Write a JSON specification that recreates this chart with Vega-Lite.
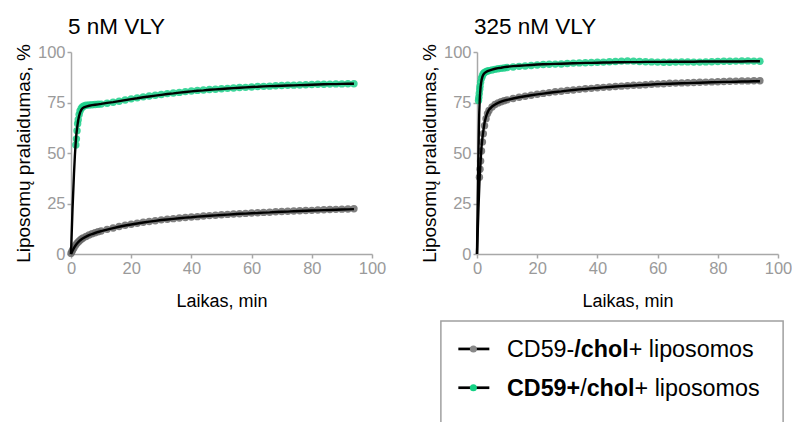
{
"$schema":"https://vega.github.io/schema/vega-lite/v6.json",
"background":"white",
"padding":{"left":14,"top":16,"right":0,"bottom":0},
"config":{"font":"Liberation Sans","view":{"stroke":null},
"axis":{"grid":false,"domainColor":"#a8a8a8","domainWidth":1.5,"tickColor":"#a8a8a8","tickWidth":1.5,"tickSize":4,"labelColor":"#9a9a9a","labelFontSize":16.5,"labelPadding":2,"labelFlush":false,"titleColor":"#000000","titleFontWeight":"normal","titleFont":"Liberation Sans","labelFont":"Liberation Sans"},
"title":{"anchor":"start","fontSize":22.5,"fontWeight":"normal","color":"#000000","frame":"group","dx":-3,"offset":5,"font":"Liberation Sans"}},
"spacing":34,
"datasets":{
"vly5":[
{"group":"CD59+/chol+","t":0,"obs":null,"fit":0},{"group":"CD59+/chol+","t":0.5,"obs":null,"fit":22},{"group":"CD59+/chol+","t":1,"obs":null,"fit":40},{"group":"CD59+/chol+","t":1.3,"obs":null,"fit":49},
{"group":"CD59+/chol+","t":1.6,"obs":54,"fit":56},{"group":"CD59+/chol+","t":1.8,"obs":57,"fit":59.5},{"group":"CD59+/chol+","t":2,"obs":61,"fit":62},{"group":"CD59+/chol+","t":2.2,"obs":64.5,"fit":64.3},{"group":"CD59+/chol+","t":2.4,"obs":66.5,"fit":66.2},{"group":"CD59+/chol+","t":2.7,"obs":69,"fit":68.4},{"group":"CD59+/chol+","t":3,"obs":70.8,"fit":70},{"group":"CD59+/chol+","t":3.4,"obs":72,"fit":71.3},{"group":"CD59+/chol+","t":3.8,"obs":72.8,"fit":72.1},{"group":"CD59+/chol+","t":4.3,"obs":73.3,"fit":72.6},{"group":"CD59+/chol+","t":5,"obs":73.6,"fit":73},{"group":"CD59+/chol+","t":6,"obs":73.8,"fit":73.4},{"group":"CD59+/chol+","t":7,"obs":73.9,"fit":73.7},{"group":"CD59+/chol+","t":8,"obs":74,"fit":73.9},{"group":"CD59+/chol+","t":9,"obs":74.1,"fit":74.1},{"group":"CD59+/chol+","t":10,"obs":74.2,"fit":74.3},{"group":"CD59+/chol+","t":12,"obs":74.6,"fit":74.8},{"group":"CD59+/chol+","t":14,"obs":75.1,"fit":75.2},{"group":"CD59+/chol+","t":16,"obs":75.6,"fit":75.7},{"group":"CD59+/chol+","t":18,"obs":76.2,"fit":76.2},{"group":"CD59+/chol+","t":20,"obs":76.8,"fit":76.7},{"group":"CD59+/chol+","t":22,"obs":77.3,"fit":77.1},{"group":"CD59+/chol+","t":24,"obs":77.8,"fit":77.6},{"group":"CD59+/chol+","t":26,"obs":78.2,"fit":78},{"group":"CD59+/chol+","t":28,"obs":78.6,"fit":78.4},{"group":"CD59+/chol+","t":30,"obs":79,"fit":78.8},{"group":"CD59+/chol+","t":32,"obs":79.4,"fit":79.2},{"group":"CD59+/chol+","t":34,"obs":79.7,"fit":79.5},{"group":"CD59+/chol+","t":36,"obs":80,"fit":79.9},{"group":"CD59+/chol+","t":38,"obs":80.4,"fit":80.2},{"group":"CD59+/chol+","t":40,"obs":80.7,"fit":80.5},{"group":"CD59+/chol+","t":42,"obs":81,"fit":80.8},{"group":"CD59+/chol+","t":44,"obs":81.2,"fit":81},{"group":"CD59+/chol+","t":46,"obs":81.4,"fit":81.3},{"group":"CD59+/chol+","t":48,"obs":81.6,"fit":81.5},{"group":"CD59+/chol+","t":50,"obs":81.8,"fit":81.7},{"group":"CD59+/chol+","t":52,"obs":82,"fit":81.9},{"group":"CD59+/chol+","t":54,"obs":82.2,"fit":82.1},{"group":"CD59+/chol+","t":56,"obs":82.4,"fit":82.3},{"group":"CD59+/chol+","t":58,"obs":82.5,"fit":82.5},{"group":"CD59+/chol+","t":60,"obs":82.7,"fit":82.7},{"group":"CD59+/chol+","t":62,"obs":82.9,"fit":82.8},{"group":"CD59+/chol+","t":64,"obs":83,"fit":83},{"group":"CD59+/chol+","t":66,"obs":83.1,"fit":83.1},{"group":"CD59+/chol+","t":68,"obs":83.3,"fit":83.2},{"group":"CD59+/chol+","t":70,"obs":83.4,"fit":83.3},{"group":"CD59+/chol+","t":72,"obs":83.5,"fit":83.4},{"group":"CD59+/chol+","t":74,"obs":83.6,"fit":83.5},{"group":"CD59+/chol+","t":76,"obs":83.7,"fit":83.6},{"group":"CD59+/chol+","t":78,"obs":83.8,"fit":83.7},{"group":"CD59+/chol+","t":80,"obs":83.9,"fit":83.8},{"group":"CD59+/chol+","t":82,"obs":84,"fit":83.9},{"group":"CD59+/chol+","t":84,"obs":84,"fit":84},{"group":"CD59+/chol+","t":86,"obs":84.1,"fit":84.1},{"group":"CD59+/chol+","t":88,"obs":84.2,"fit":84.1},{"group":"CD59+/chol+","t":90,"obs":84.2,"fit":84.2},{"group":"CD59+/chol+","t":92,"obs":84.3,"fit":84.3},{"group":"CD59+/chol+","t":94,"obs":84.3,"fit":84.3},
{"group":"CD59-/chol+","t":0,"obs":0.3,"fit":0},{"group":"CD59-/chol+","t":0.3,"obs":1.2,"fit":1},{"group":"CD59-/chol+","t":0.6,"obs":2.1,"fit":1.9},{"group":"CD59-/chol+","t":1,"obs":3.1,"fit":3},{"group":"CD59-/chol+","t":1.5,"obs":4.3,"fit":4.2},{"group":"CD59-/chol+","t":2,"obs":5.3,"fit":5.2},{"group":"CD59-/chol+","t":2.5,"obs":6.1,"fit":6},{"group":"CD59-/chol+","t":3,"obs":6.8,"fit":6.7},{"group":"CD59-/chol+","t":3.5,"obs":7.4,"fit":7.3},{"group":"CD59-/chol+","t":4,"obs":7.9,"fit":7.8},{"group":"CD59-/chol+","t":5,"obs":8.7,"fit":8.6},{"group":"CD59-/chol+","t":6,"obs":9.4,"fit":9.3},{"group":"CD59-/chol+","t":7,"obs":10,"fit":9.9},{"group":"CD59-/chol+","t":8,"obs":10.5,"fit":10.4},{"group":"CD59-/chol+","t":9,"obs":11,"fit":10.9},{"group":"CD59-/chol+","t":10,"obs":11.4,"fit":11.3},{"group":"CD59-/chol+","t":12,"obs":12.2,"fit":12.1},{"group":"CD59-/chol+","t":14,"obs":12.9,"fit":12.8},{"group":"CD59-/chol+","t":16,"obs":13.6,"fit":13.5},{"group":"CD59-/chol+","t":18,"obs":14.2,"fit":14.1},{"group":"CD59-/chol+","t":20,"obs":14.7,"fit":14.6},{"group":"CD59-/chol+","t":22,"obs":15.2,"fit":15.1},{"group":"CD59-/chol+","t":24,"obs":15.7,"fit":15.6},{"group":"CD59-/chol+","t":26,"obs":16.1,"fit":16},{"group":"CD59-/chol+","t":28,"obs":16.5,"fit":16.4},{"group":"CD59-/chol+","t":30,"obs":16.9,"fit":16.8},{"group":"CD59-/chol+","t":32,"obs":17.2,"fit":17.1},{"group":"CD59-/chol+","t":34,"obs":17.5,"fit":17.4},{"group":"CD59-/chol+","t":36,"obs":17.8,"fit":17.7},{"group":"CD59-/chol+","t":38,"obs":18.1,"fit":18},{"group":"CD59-/chol+","t":40,"obs":18.3,"fit":18.2},{"group":"CD59-/chol+","t":42,"obs":18.5,"fit":18.5},{"group":"CD59-/chol+","t":44,"obs":18.8,"fit":18.7},{"group":"CD59-/chol+","t":46,"obs":19,"fit":18.9},{"group":"CD59-/chol+","t":48,"obs":19.2,"fit":19.1},{"group":"CD59-/chol+","t":50,"obs":19.4,"fit":19.3},{"group":"CD59-/chol+","t":52,"obs":19.6,"fit":19.5},{"group":"CD59-/chol+","t":54,"obs":19.8,"fit":19.7},{"group":"CD59-/chol+","t":56,"obs":19.9,"fit":19.9},{"group":"CD59-/chol+","t":58,"obs":20.1,"fit":20},{"group":"CD59-/chol+","t":60,"obs":20.3,"fit":20.2},{"group":"CD59-/chol+","t":62,"obs":20.4,"fit":20.3},{"group":"CD59-/chol+","t":64,"obs":20.6,"fit":20.5},{"group":"CD59-/chol+","t":66,"obs":20.7,"fit":20.6},{"group":"CD59-/chol+","t":68,"obs":20.9,"fit":20.8},{"group":"CD59-/chol+","t":70,"obs":21,"fit":20.9},{"group":"CD59-/chol+","t":72,"obs":21.2,"fit":21},{"group":"CD59-/chol+","t":74,"obs":21.3,"fit":21.2},{"group":"CD59-/chol+","t":76,"obs":21.4,"fit":21.3},{"group":"CD59-/chol+","t":78,"obs":21.5,"fit":21.4},{"group":"CD59-/chol+","t":80,"obs":21.6,"fit":21.5},{"group":"CD59-/chol+","t":82,"obs":21.8,"fit":21.6},{"group":"CD59-/chol+","t":84,"obs":21.9,"fit":21.7},{"group":"CD59-/chol+","t":86,"obs":22,"fit":21.8},{"group":"CD59-/chol+","t":88,"obs":22.1,"fit":21.9},{"group":"CD59-/chol+","t":90,"obs":22.2,"fit":22},{"group":"CD59-/chol+","t":92,"obs":22.3,"fit":22.1},{"group":"CD59-/chol+","t":94,"obs":22.4,"fit":22.2}
],
"vly325":[
{"group":"CD59+/chol+","t":0,"obs":null,"fit":0},{"group":"CD59+/chol+","t":0.25,"obs":null,"fit":27},{"group":"CD59+/chol+","t":0.5,"obs":76,"fit":52},{"group":"CD59+/chol+","t":0.6,"obs":77.5,"fit":60},{"group":"CD59+/chol+","t":0.75,"obs":79.5,"fit":70},{"group":"CD59+/chol+","t":0.9,"obs":81.5,"fit":76},{"group":"CD59+/chol+","t":1,"obs":83,"fit":79},{"group":"CD59+/chol+","t":1.2,"obs":85,"fit":83},{"group":"CD59+/chol+","t":1.5,"obs":87,"fit":86},{"group":"CD59+/chol+","t":1.8,"obs":88.3,"fit":87.8},{"group":"CD59+/chol+","t":2.1,"obs":89.2,"fit":88.8},{"group":"CD59+/chol+","t":2.5,"obs":89.9,"fit":89.6},{"group":"CD59+/chol+","t":3,"obs":90.3,"fit":90.1},{"group":"CD59+/chol+","t":3.5,"obs":90.6,"fit":90.5},{"group":"CD59+/chol+","t":4,"obs":90.8,"fit":90.8},{"group":"CD59+/chol+","t":5,"obs":91.1,"fit":91.3},{"group":"CD59+/chol+","t":6,"obs":91.4,"fit":91.7},{"group":"CD59+/chol+","t":7,"obs":91.7,"fit":92},{"group":"CD59+/chol+","t":8,"obs":91.9,"fit":92.2},{"group":"CD59+/chol+","t":9,"obs":92.1,"fit":92.5},{"group":"CD59+/chol+","t":10,"obs":92.3,"fit":92.7},{"group":"CD59+/chol+","t":12,"obs":92.6,"fit":93},{"group":"CD59+/chol+","t":14,"obs":92.9,"fit":93.2},{"group":"CD59+/chol+","t":16,"obs":93.1,"fit":93.4},{"group":"CD59+/chol+","t":18,"obs":93.3,"fit":93.6},{"group":"CD59+/chol+","t":20,"obs":93.6,"fit":93.8},{"group":"CD59+/chol+","t":22,"obs":93.8,"fit":93.9},{"group":"CD59+/chol+","t":24,"obs":93.9,"fit":94},{"group":"CD59+/chol+","t":26,"obs":94,"fit":94.1},{"group":"CD59+/chol+","t":28,"obs":94.1,"fit":94.2},{"group":"CD59+/chol+","t":30,"obs":94.3,"fit":94.3},{"group":"CD59+/chol+","t":32,"obs":94.5,"fit":94.4},{"group":"CD59+/chol+","t":34,"obs":94.6,"fit":94.5},{"group":"CD59+/chol+","t":36,"obs":94.7,"fit":94.6},{"group":"CD59+/chol+","t":38,"obs":94.8,"fit":94.6},{"group":"CD59+/chol+","t":40,"obs":94.9,"fit":94.7},{"group":"CD59+/chol+","t":42,"obs":95,"fit":94.8},{"group":"CD59+/chol+","t":44,"obs":95.2,"fit":94.8},{"group":"CD59+/chol+","t":46,"obs":95.3,"fit":94.9},{"group":"CD59+/chol+","t":48,"obs":95.5,"fit":94.9},{"group":"CD59+/chol+","t":50,"obs":95.6,"fit":95},{"group":"CD59+/chol+","t":52,"obs":95.5,"fit":95},{"group":"CD59+/chol+","t":54,"obs":95.3,"fit":95},{"group":"CD59+/chol+","t":56,"obs":95.2,"fit":95.1},{"group":"CD59+/chol+","t":58,"obs":95.1,"fit":95.1},{"group":"CD59+/chol+","t":60,"obs":95,"fit":95.1},{"group":"CD59+/chol+","t":62,"obs":94.9,"fit":95.1},{"group":"CD59+/chol+","t":64,"obs":94.9,"fit":95.2},{"group":"CD59+/chol+","t":66,"obs":95,"fit":95.2},{"group":"CD59+/chol+","t":68,"obs":95.1,"fit":95.2},{"group":"CD59+/chol+","t":70,"obs":95.1,"fit":95.2},{"group":"CD59+/chol+","t":72,"obs":95,"fit":95.2},{"group":"CD59+/chol+","t":74,"obs":95,"fit":95.3},{"group":"CD59+/chol+","t":76,"obs":95.1,"fit":95.3},{"group":"CD59+/chol+","t":78,"obs":95.2,"fit":95.3},{"group":"CD59+/chol+","t":80,"obs":95.3,"fit":95.3},{"group":"CD59+/chol+","t":82,"obs":95.4,"fit":95.3},{"group":"CD59+/chol+","t":84,"obs":95.4,"fit":95.3},{"group":"CD59+/chol+","t":86,"obs":95.5,"fit":95.3},{"group":"CD59+/chol+","t":88,"obs":95.6,"fit":95.3},{"group":"CD59+/chol+","t":90,"obs":95.6,"fit":95.4},{"group":"CD59+/chol+","t":92,"obs":95.5,"fit":95.4},{"group":"CD59+/chol+","t":94,"obs":95.4,"fit":95.4},
{"group":"CD59-/chol+","t":0,"obs":null,"fit":0},{"group":"CD59-/chol+","t":0.5,"obs":null,"fit":23},{"group":"CD59-/chol+","t":0.8,"obs":38,"fit":35},{"group":"CD59-/chol+","t":1,"obs":42,"fit":41},{"group":"CD59-/chol+","t":1.2,"obs":46,"fit":46},{"group":"CD59-/chol+","t":1.5,"obs":51,"fit":53},{"group":"CD59-/chol+","t":1.8,"obs":55.5,"fit":57.5},{"group":"CD59-/chol+","t":2.1,"obs":59.5,"fit":61},{"group":"CD59-/chol+","t":2.5,"obs":63.5,"fit":65},{"group":"CD59-/chol+","t":3,"obs":67,"fit":68},{"group":"CD59-/chol+","t":3.5,"obs":69.5,"fit":70},{"group":"CD59-/chol+","t":4,"obs":71,"fit":71.5},{"group":"CD59-/chol+","t":5,"obs":72.8,"fit":73},{"group":"CD59-/chol+","t":6,"obs":74,"fit":74},{"group":"CD59-/chol+","t":7,"obs":74.8,"fit":74.8},{"group":"CD59-/chol+","t":8,"obs":75.4,"fit":75.4},{"group":"CD59-/chol+","t":9,"obs":75.9,"fit":75.9},{"group":"CD59-/chol+","t":10,"obs":76.3,"fit":76.3},{"group":"CD59-/chol+","t":12,"obs":77,"fit":77},{"group":"CD59-/chol+","t":14,"obs":77.6,"fit":77.6},{"group":"CD59-/chol+","t":16,"obs":78.1,"fit":78.1},{"group":"CD59-/chol+","t":18,"obs":78.6,"fit":78.6},{"group":"CD59-/chol+","t":20,"obs":79.1,"fit":79},{"group":"CD59-/chol+","t":22,"obs":79.5,"fit":79.4},{"group":"CD59-/chol+","t":24,"obs":79.9,"fit":79.8},{"group":"CD59-/chol+","t":26,"obs":80.3,"fit":80.2},{"group":"CD59-/chol+","t":28,"obs":80.6,"fit":80.5},{"group":"CD59-/chol+","t":30,"obs":81,"fit":80.9},{"group":"CD59-/chol+","t":32,"obs":81.2,"fit":81.2},{"group":"CD59-/chol+","t":34,"obs":81.5,"fit":81.5},{"group":"CD59-/chol+","t":36,"obs":81.8,"fit":81.7},{"group":"CD59-/chol+","t":38,"obs":82,"fit":82},{"group":"CD59-/chol+","t":40,"obs":82.3,"fit":82.2},{"group":"CD59-/chol+","t":42,"obs":82.5,"fit":82.5},{"group":"CD59-/chol+","t":44,"obs":82.7,"fit":82.7},{"group":"CD59-/chol+","t":46,"obs":82.9,"fit":82.9},{"group":"CD59-/chol+","t":48,"obs":83.1,"fit":83.1},{"group":"CD59-/chol+","t":50,"obs":83.3,"fit":83.3},{"group":"CD59-/chol+","t":52,"obs":83.5,"fit":83.4},{"group":"CD59-/chol+","t":54,"obs":83.6,"fit":83.6},{"group":"CD59-/chol+","t":56,"obs":83.8,"fit":83.8},{"group":"CD59-/chol+","t":58,"obs":84,"fit":83.9},{"group":"CD59-/chol+","t":60,"obs":84.2,"fit":84.1},{"group":"CD59-/chol+","t":62,"obs":84.3,"fit":84.2},{"group":"CD59-/chol+","t":64,"obs":84.5,"fit":84.3},{"group":"CD59-/chol+","t":66,"obs":84.6,"fit":84.4},{"group":"CD59-/chol+","t":68,"obs":84.7,"fit":84.5},{"group":"CD59-/chol+","t":70,"obs":84.8,"fit":84.6},{"group":"CD59-/chol+","t":72,"obs":84.9,"fit":84.7},{"group":"CD59-/chol+","t":74,"obs":85,"fit":84.8},{"group":"CD59-/chol+","t":76,"obs":85.1,"fit":84.9},{"group":"CD59-/chol+","t":78,"obs":85.2,"fit":85},{"group":"CD59-/chol+","t":80,"obs":85.3,"fit":85.1},{"group":"CD59-/chol+","t":82,"obs":85.4,"fit":85.2},{"group":"CD59-/chol+","t":84,"obs":85.5,"fit":85.2},{"group":"CD59-/chol+","t":86,"obs":85.6,"fit":85.3},{"group":"CD59-/chol+","t":88,"obs":85.7,"fit":85.4},{"group":"CD59-/chol+","t":90,"obs":85.7,"fit":85.4},{"group":"CD59-/chol+","t":92,"obs":85.8,"fit":85.5},{"group":"CD59-/chol+","t":94,"obs":85.8,"fit":85.5}
]},
"hconcat":[
{"width":301,"height":202,"title":{"text":"5 nM VLY"},"data":{"name":"vly5"},
"layer":[
{"mark":{"type":"point","filled":true,"size":55,"opacity":0.85},"encoding":{"x":{"field":"t","type":"quantitative","scale":{"domain":[0,100],"nice":false,"zero":false},"axis":{"values":[0,20,40,60,80,100],"title":"Laikas, min","titleFontSize":18,"titlePadding":16}},"y":{"field":"obs","type":"quantitative","scale":{"domain":[0,100],"nice":false},"axis":{"values":[0,25,50,75,100],"title":"Liposomų pralaidumas, %","titleFontSize":19,"titlePadding":4}},"color":{"field":"group","type":"nominal","scale":{"domain":["CD59-/chol+","CD59+/chol+"],"range":["#6a6a6a","#1ccf8a"]},"legend":null}}},
{"mark":{"type":"line","color":"#000000","strokeWidth":2.4},"encoding":{"x":{"field":"t","type":"quantitative"},"y":{"field":"fit","type":"quantitative"},"detail":{"field":"group"}}}
]},
{"width":301,"height":202,"title":{"text":"325 nM VLY"},
"layer":[
{"data":{"name":"vly325"},"mark":{"type":"point","filled":true,"size":55,"opacity":0.85},"encoding":{"x":{"field":"t","type":"quantitative","scale":{"domain":[0,100],"nice":false,"zero":false},"axis":{"values":[0,20,40,60,80,100],"title":"Laikas, min","titleFontSize":18,"titlePadding":16}},"y":{"field":"obs","type":"quantitative","scale":{"domain":[0,100],"nice":false},"axis":{"values":[0,25,50,75,100],"title":"Liposomų pralaidumas, %","titleFontSize":19,"titlePadding":4}},"color":{"field":"group","type":"nominal","scale":{"domain":["CD59-/chol+","CD59+/chol+"],"range":["#6a6a6a","#1ccf8a"]},"legend":null}}},
{"data":{"name":"vly325"},"mark":{"type":"line","color":"#000000","strokeWidth":2.4},"encoding":{"x":{"field":"t","type":"quantitative"},"y":{"field":"fit","type":"quantitative"},"detail":{"field":"group"}}},
{"data":{"values":[{"entry":"legend"}]},"mark":{"type":"rect","fill":"transparent","stroke":"#a0a0a0","strokeWidth":1.5},"encoding":{"x":{"datum":-12},"x2":{"datum":101.7},"y":{"datum":-33.2},"y2":{"datum":-95}}},
{"data":{"values":[{"entry":"legend"}]},"mark":{"type":"rule","color":"#000000","strokeWidth":2.7},"encoding":{"x":{"datum":-6.2},"x2":{"datum":4.1},"y":{"datum":-47}}},
{"data":{"values":[{"entry":"legend"}]},"mark":{"type":"point","filled":true,"size":50,"opacity":1,"color":"#888888"},"encoding":{"x":{"datum":-1.2},"y":{"datum":-47}}},
{"data":{"values":[{"entry":"legend"}]},"mark":{"type":"rule","color":"#000000","strokeWidth":2.7},"encoding":{"x":{"datum":-6.2},"x2":{"datum":4.1},"y":{"datum":-66.2}}},
{"data":{"values":[{"entry":"legend"}]},"mark":{"type":"point","filled":true,"size":50,"opacity":1,"color":"#14d184"},"encoding":{"x":{"datum":-1.2},"y":{"datum":-66.2}}},
{"data":{"values":[{"entry":"legend"}]},"mark":{"type":"text","text":"CD59-","align":"left","baseline":"alphabetic","fontSize":23.3,"color":"#000000"},"encoding":{"x":{"datum":9.97},"y":{"datum":-50.8}}},
{"data":{"values":[{"entry":"legend"}]},"mark":{"type":"text","text":"/chol","align":"left","baseline":"alphabetic","fontSize":23.3,"fontWeight":"bold","color":"#000000"},"encoding":{"x":{"datum":32.33},"y":{"datum":-50.8}}},
{"data":{"values":[{"entry":"legend"}]},"mark":{"type":"text","text":"+ liposomos","align":"left","baseline":"alphabetic","fontSize":23.3,"color":"#000000"},"encoding":{"x":{"datum":50.4},"y":{"datum":-50.8}}},
{"data":{"values":[{"entry":"legend"}]},"mark":{"type":"text","text":"CD59+","align":"left","baseline":"alphabetic","fontSize":23.3,"fontWeight":"bold","color":"#000000"},"encoding":{"x":{"datum":9.97},"y":{"datum":-70.2}}},
{"data":{"values":[{"entry":"legend"}]},"mark":{"type":"text","text":"/","align":"left","baseline":"alphabetic","fontSize":23.3,"color":"#000000"},"encoding":{"x":{"datum":34.29},"y":{"datum":-70.2}}},
{"data":{"values":[{"entry":"legend"}]},"mark":{"type":"text","text":"chol","align":"left","baseline":"alphabetic","fontSize":23.3,"fontWeight":"bold","color":"#000000"},"encoding":{"x":{"datum":36.43},"y":{"datum":-70.2}}},
{"data":{"values":[{"entry":"legend"}]},"mark":{"type":"text","text":"+ liposomos","align":"left","baseline":"alphabetic","fontSize":23.3,"color":"#000000"},"encoding":{"x":{"datum":52.36},"y":{"datum":-70.2}}}
]}
]
}
